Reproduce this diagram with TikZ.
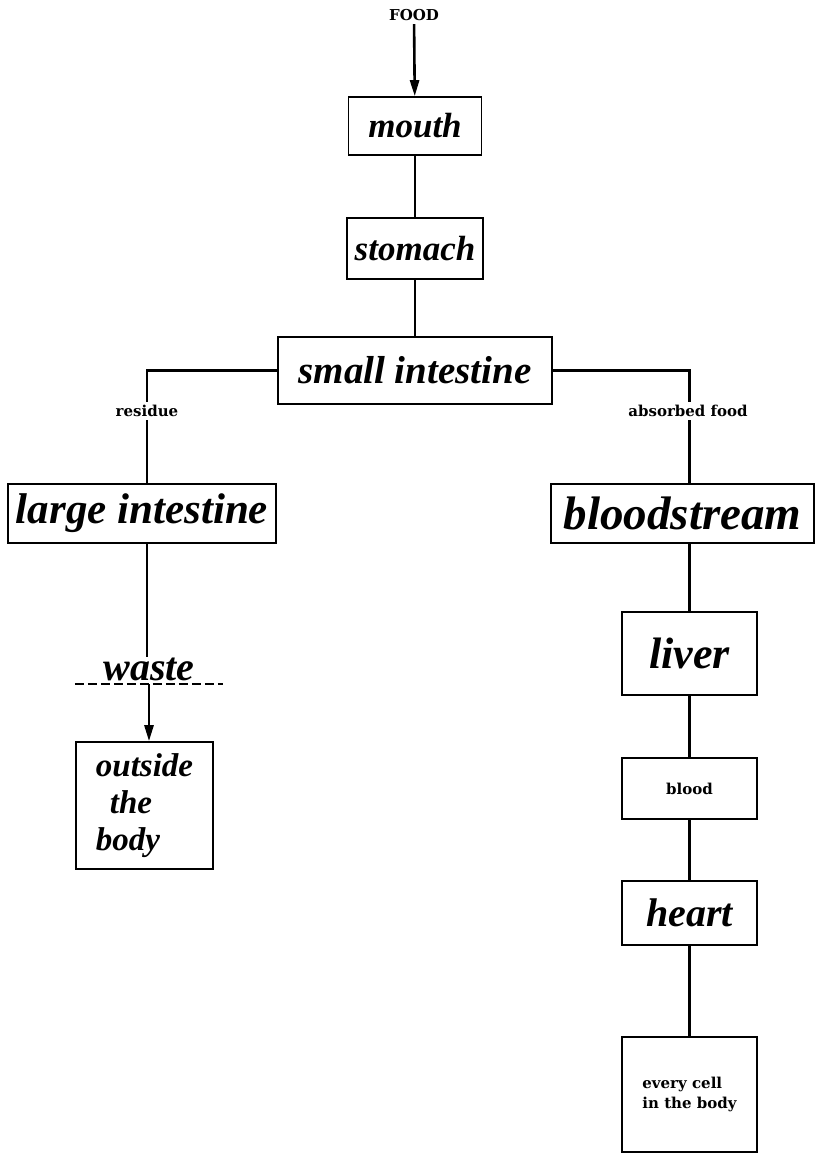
\documentclass[tikz,border=0pt]{standalone}
\usepackage{fontspec}
\newfontfamily\labfont{DejaVu Serif}
\newfontfamily\hwfont{Liberation Serif}
\usetikzlibrary{arrows.meta}
\newcommand\hwf[1]{\hwfont\fontsize{#1}{1.1\dimexpr#1\relax}\selectfont\bfseries\itshape}
\newcommand\hwoutside{\hwfont\fontsize{33pt}{37pt}\selectfont\bfseries\itshape}
\begin{document}
\begin{tikzpicture}[x=1pt,y=-1pt,
  box/.style={draw, line width=1.6pt, inner sep=0pt, align=center},
  conn/.style={line width=2.6pt},
  arr/.style={conn, -{Triangle[length=16pt,width=9pt]}},
  lab/.style={font=\labfont\bfseries\fontsize{15pt}{20pt}\selectfont, align=left},
  gap/.style={lab, fill=white, inner sep=3pt}]
\useasboundingbox (0,0) rectangle (816,1156);

% top column
\node[lab] (food) at (414,15) {FOOD};
\node[box, minimum width=133pt, minimum height=58pt, font=\hwf{35pt}] (mouth) at (415,126) {mouth};
\node[box, minimum width=136pt, minimum height=61pt, font=\hwf{35pt}] (stomach) at (415,248.5) {stomach};
\node[box, minimum width=274pt, minimum height=67pt, font=\hwf{39pt}] (small) at (415,370.5) {small intestine};

% left column
\node[box, minimum width=268pt, minimum height=59pt, font=\hwf{43pt}] (large) at (142,513.5) {large intestine};
\coordinate (lc) at (147,0);
\node[anchor=base, minimum width=148pt, inner sep=0pt, font=\hwf{40pt}] (waste) at (149,680) {waste};
\node[box, minimum width=137pt, minimum height=127pt, align=left, font=\hwoutside] (outside) at (144.5,805.5)
  {outside\\\hspace*{14pt}the\\body};

% right column
\node[box, minimum width=263pt, minimum height=59pt, font=\hwf{47pt}] (bloodstream) at (682.5,513.5) {bloodstream};
\coordinate (rc) at (689.5,0);
\node[box, minimum width=135pt, minimum height=83pt, font=\hwf{44pt}] (liver) at (689.5,653.5) {liver};
\node[box, lab, align=center, minimum width=135pt, minimum height=61pt] (blood) at (689.5,788.5) {blood};
\node[box, minimum width=135pt, minimum height=64pt, font=\hwf{40pt}] (heart) at (689.5,913) {heart};
\node[box, lab, minimum width=135pt, minimum height=115pt] (cell) at (689.5,1094.5) {every cell\\in the body};

% connectors
\draw[arr] (food) -- (mouth);
\draw[conn] (mouth) -- (stomach);
\draw[conn] (stomach) -- (small);
\draw[conn] (small.west) -| (lc |- large.north);
\draw[conn] (small.east) -| (rc |- bloodstream.north);
\node[gap] (residue) at (147,411) {residue};
\node[gap] (absorbed) at (688,411) {absorbed food};
\draw[conn] (lc |- large.south) -- (lc |- waste.north);
\draw[dashed, line width=1.3pt, dash pattern=on 9pt off 4pt] ([yshift=-4pt]waste.base west) -- ([yshift=-4pt]waste.base east);
\draw[arr] ([yshift=-4pt]waste.base) -- (waste.base |- outside.north);
\draw[conn] (rc |- bloodstream.south) -- (liver);
\draw[conn] (liver) -- (blood);
\draw[conn] (blood) -- (heart);
\draw[conn] (heart) -- (cell);
\end{tikzpicture}
\end{document}
